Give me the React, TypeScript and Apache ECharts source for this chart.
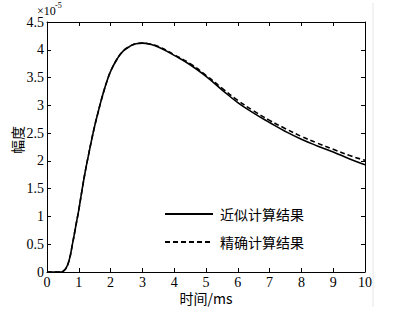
import React, { useEffect, useRef } from "react";
import * as echarts from "echarts";

const seriesNames = ["近似计算结果", "精确计算结果"];
const xLabel = "时间/ms";
const yLabel = "幅度";
const xTicks = [0, 1, 2, 3, 4, 5, 6, 7, 8, 9, 10];
const yTicks = [0, 0.5, 1, 1.5, 2, 2.5, 3, 3.5, 4, 4.5];

const times = [0, 0.3, 0.45, 0.5, 0.6, 0.7, 0.8, 0.9, 1.0, 1.1, 1.2, 1.3, 1.4, 1.5, 1.6, 1.7, 1.8, 1.9, 2.0, 2.2, 2.4, 2.6, 2.8, 3.0, 3.25, 3.5, 4.0, 4.5, 5.0, 5.5, 6.0, 6.5, 7.0, 7.5, 8.0, 8.5, 9.0, 9.5, 10];
const approxValues = [0, 0, 0, 0.01, 0.07, 0.22, 0.5, 0.81, 1.12, 1.47, 1.8, 2.09, 2.37, 2.63, 2.86, 3.08, 3.28, 3.46, 3.61, 3.83, 3.98, 4.06, 4.11, 4.12, 4.1, 4.05, 3.9, 3.73, 3.52, 3.28, 3.05, 2.86, 2.69, 2.53, 2.39, 2.27, 2.16, 2.04, 1.93];
const exactValues = [0, 0, 0, 0.01, 0.07, 0.22, 0.5, 0.81, 1.12, 1.47, 1.8, 2.09, 2.37, 2.63, 2.86, 3.08, 3.28, 3.46, 3.61, 3.83, 3.98, 4.06, 4.11, 4.12, 4.1, 4.06, 3.91, 3.75, 3.54, 3.31, 3.09, 2.9, 2.73, 2.58, 2.44, 2.32, 2.21, 2.1, 2.01];

export default function App() {
  const ref = useRef<HTMLDivElement>(null);
  useEffect(() => {
    if (!ref.current) return;
    const chart = echarts.init(ref.current, null, { renderer: "svg" });
    const serif = "Liberation Serif";
    const cjk = "Noto Sans CJK SC";
    const xMin = xTicks[0], xMax = xTicks[xTicks.length - 1];
    const yMin = yTicks[0], yMax = yTicks[yTicks.length - 1];
    const xInt = xTicks[1] - xTicks[0];
    const yInt = yTicks[1] - yTicks[0];
    const axisCommon = {
      axisLine: { show: true, onZero: false, lineStyle: { color: "#000", width: 1 } },
      axisTick: { show: true, inside: true, length: 4, lineStyle: { color: "#000" } },
      splitLine: { show: false },
    };
    chart.setOption({
      animation: false,
      backgroundColor: "#fff",
      textStyle: { fontFamily: serif },
      grid: { left: 47, top: 22, right: 30, bottom: 42, show: false, containLabel: false, outerBoundsMode: "none" },
      xAxis: [
        {
          type: "value", min: xMin, max: xMax, interval: xInt, position: "bottom",
          ...axisCommon,
          axisLabel: { color: "#000", fontFamily: serif, fontSize: 14, margin: 3 },
          name: xLabel, nameLocation: "middle", nameGap: 19, nameMoveOverlap: false,
          nameTextStyle: { color: "#000", fontFamily: cjk, fontSize: 14 },
        },
        {
          type: "value", min: xMin, max: xMax, interval: xInt, position: "top",
          ...axisCommon, axisLabel: { show: false },
        },
      ],
      yAxis: [
        {
          type: "value", min: yMin, max: yMax, interval: yInt, position: "left",
          ...axisCommon,
          axisLabel: { color: "#000", fontFamily: serif, fontSize: 14, margin: 3 },
          name: yLabel, nameLocation: "middle", nameGap: 23, nameRotate: 90, nameMoveOverlap: false,
          nameTextStyle: { color: "#000", fontFamily: cjk, fontSize: 14, padding: [0, 0, 0, 14] },
        },
        {
          type: "value", min: yMin, max: yMax, interval: yInt, position: "right",
          ...axisCommon, axisLabel: { show: false },
        },
      ],
      legend: {
        orient: "vertical", left: 159, top: 202, itemWidth: 48, itemHeight: 14, itemGap: 14,
        itemStyle: { opacity: 0 },
        textStyle: { color: "#000", fontFamily: cjk, fontSize: 14, padding: [0, 0, 0, 2] },
        data: seriesNames.map((n) => ({ name: n })),
      },
      graphic: [
        {
          type: "text", left: 37, top: 5,
          style: { text: "×10", fontFamily: serif, fontSize: 12, fill: "#000" },
        },
        {
          type: "text", left: 55, top: 1,
          style: { text: "-5", fontFamily: serif, fontSize: 8, fill: "#000" },
        },
        {
          type: "line", shape: { x1: 373, y1: 3, x2: 373, y2: 307 },
          style: { stroke: "#e6e6e6", lineWidth: 1 },
        },
      ],
      series: [
        {
          name: seriesNames[0], type: "line", showSymbol: false, symbol: "none", smooth: 0.5,
          data: times.map((t, i) => [t, approxValues[i]]),
          lineStyle: { color: "#000", width: 1.6 }, itemStyle: { color: "#000" },
        },
        {
          name: seriesNames[1], type: "line", showSymbol: false, symbol: "none", smooth: 0.5,
          data: times.map((t, i) => [t, exactValues[i]]),
          lineStyle: { color: "#000", width: 1.6, type: [5, 3] }, itemStyle: { color: "#000" },
        },
      ],
    });
    return () => chart.dispose();
  }, []);
  return <div ref={ref} style={{ position: "absolute", left: 0, top: 0, width: 395, height: 314 }} />;
}
